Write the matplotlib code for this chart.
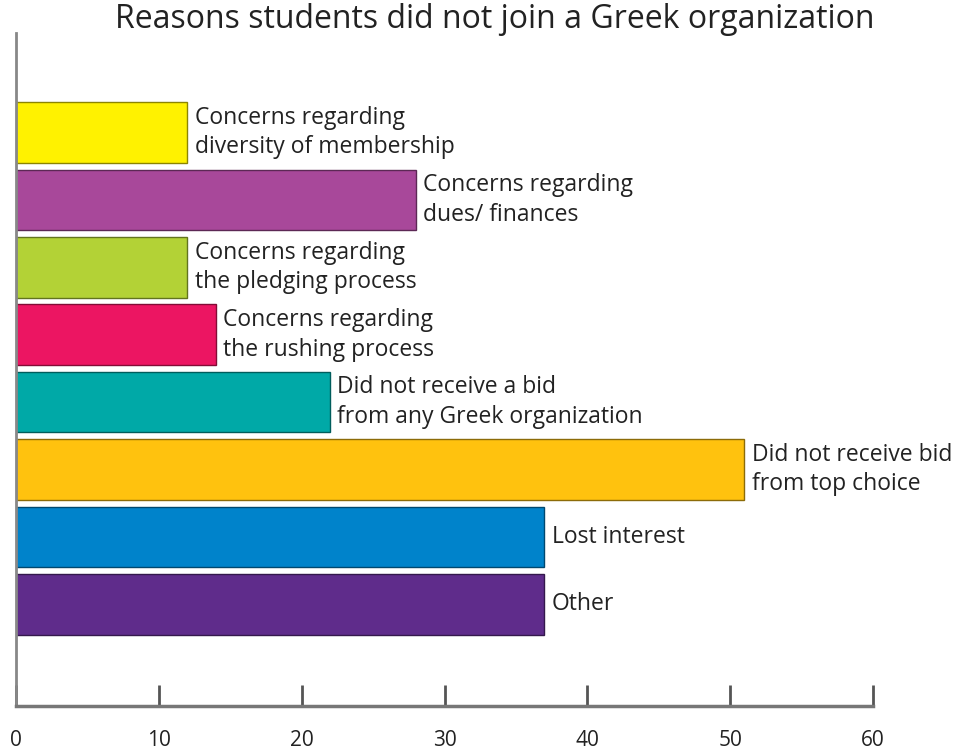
import matplotlib.pyplot as plt
import matplotlib.colors as mcolors
import numpy as np

# Dane: powody, dla których studenci nie dołączyli do organizacji greckiej
reasons = [
    'Concerns regarding\ndiversity of membership',
    'Concerns regarding\ndues/ finances',
    'Concerns regarding\nthe pledging process',
    'Concerns regarding\nthe rushing process',
    'Did not receive a bid\nfrom any Greek organization',
    'Did not receive bid\nfrom top choice',
    'Lost interest',
    'Other',
]
counts = [12, 28, 12, 14, 22, 51, 37, 37]
bar_colors = ['#FFF200', '#A8489A', '#B3D236', '#EC1562',
              '#00A9A7', '#FFC20E', '#0083CB', '#5F2C8B']
x_ticks = [0, 10, 20, 30, 40, 50, 60]

plt.rcParams['font.family'] = ['Open Sans', 'DejaVu Sans']

fig = plt.figure(figsize=(9.69, 7.53), dpi=100)
ax = fig.add_axes([16 / 969, 1 - 706 / 753, (873 - 16) / 969, (706 - 33) / 753])

y = np.arange(len(reasons))
edge_colors = [tuple(c * 0.55 for c in mcolors.to_rgb(col)) for col in bar_colors]
ax.barh(y, counts, height=0.9, color=bar_colors, edgecolor=edge_colors, linewidth=1.0)

for yi, val, label in zip(y, counts, reasons):
    ax.text(val + 0.5, yi, label, va='center', ha='left', fontsize=16.5,
            color='#222222', linespacing=1.3)

ax.set_xlim(0, 60)
ax.set_ylim(8.51, -1.48)
ax.set_xticks(x_ticks)
ax.set_xticklabels([str(t) for t in x_ticks])
ax.set_yticks([])

for side in ['top', 'right']:
    ax.spines[side].set_visible(False)
ax.spines['left'].set_color('#888888')
ax.spines['left'].set_linewidth(2)
ax.spines['bottom'].set_color('#777777')
ax.spines['bottom'].set_linewidth(2.5)
ax.tick_params(axis='x', direction='in', length=15, width=2, color='#555555',
               labelsize=15, labelcolor='#222222', pad=17)

fig.text(495 / 969, 1 - 19 / 753, 'Reasons students did not join a Greek organization',
         ha='center', va='center', fontsize=23, color='#222222')

fig.savefig('out.png', dpi=100, facecolor='white')
